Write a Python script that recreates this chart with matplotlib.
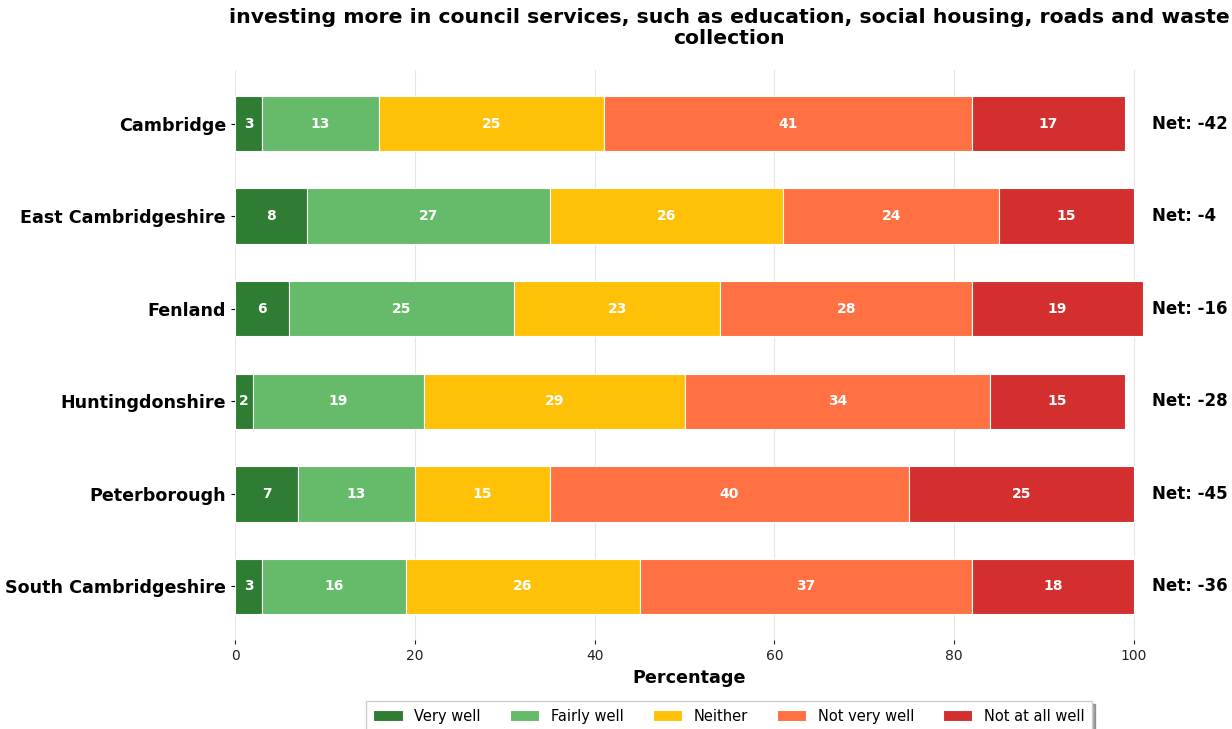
import matplotlib
matplotlib.use("Agg")
import matplotlib.pyplot as plt
import numpy as np

regions = ["Cambridge", "East Cambridgeshire", "Fenland", "Huntingdonshire",
           "Peterborough", "South Cambridgeshire"]
categories = ["Very well", "Fairly well", "Neither", "Not very well", "Not at all well"]
very_well = [3, 8, 6, 2, 7, 3]
fairly_well = [13, 27, 25, 19, 13, 16]
neither = [25, 26, 23, 29, 15, 26]
not_very_well = [41, 24, 28, 34, 40, 37]
not_at_all_well = [17, 15, 19, 15, 25, 18]
net_scores = [-42, -4, -16, -28, -45, -36]
colors = ["#2e7d32", "#66bb6a", "#ffc107", "#ff7043", "#d32f2f"]
title = ("investing more in council services, such as education, social housing, roads and waste\n"
         "collection")

series = [very_well, fairly_well, neither, not_very_well, not_at_all_well]

plt.rcParams["font.family"] = "DejaVu Sans"

fig = plt.figure(figsize=(12.32, 7.29), dpi=100)
ax = fig.add_axes([235 / 1232, 1 - 640 / 729, (1143 - 235) / 1232, (640 - 70) / 729])

y = np.arange(len(regions))
left = np.zeros(len(regions))
for vals, col, lab in zip(series, colors, categories):
    vals = np.array(vals, dtype=float)
    bars = ax.barh(y, vals, left=left, height=0.6, color=col, edgecolor="white",
                   linewidth=0.8, label=lab, zorder=3)
    for b, v in zip(bars, vals):
        if v > 0:
            ax.text(b.get_x() + b.get_width() / 2, b.get_y() + b.get_height() / 2,
                    f"{int(v)}", ha="center", va="center", color="white",
                    fontsize=10, fontweight="bold", zorder=4)
    left += vals

totals = left
for yi, net in zip(y, net_scores):
    ax.text(102, yi, f"Net: {net}", ha="left", va="center", fontsize=12,
            fontweight="bold", clip_on=False)

ax.set_xlim(0, totals.max())
ax.set_ylim(len(regions) - 0.42, -0.58)
ax.set_yticks(y)
ax.set_yticklabels(regions, fontsize=12.6, fontweight="bold")
ax.set_xticks([0, 20, 40, 60, 80, 100])
ax.tick_params(axis="x", labelsize=10, length=3, width=0.8, colors="#222222")
ax.tick_params(axis="y", length=3, width=0.8)
ax.set_xlabel("Percentage", fontsize=12.7, fontweight="bold")
ax.grid(axis="x", color="#e6e6e6", linewidth=0.8, zorder=0)
for s in ax.spines.values():
    s.set_visible(False)

fig.text(729 / 1232, 1 - 8 / 729, title, ha="center", va="top", fontsize=14.7,
         fontweight="bold", linespacing=1.13)

leg = fig.legend(loc="upper center", bbox_to_anchor=(729 / 1232, 1 - 694 / 729),
                 ncol=5, fontsize=10.5, frameon=True, shadow=True, fancybox=False,
                 handlelength=2.0, columnspacing=2.0, borderpad=0.5)
leg.get_frame().set_edgecolor("#cccccc")

fig.savefig("out.png", dpi=100)
